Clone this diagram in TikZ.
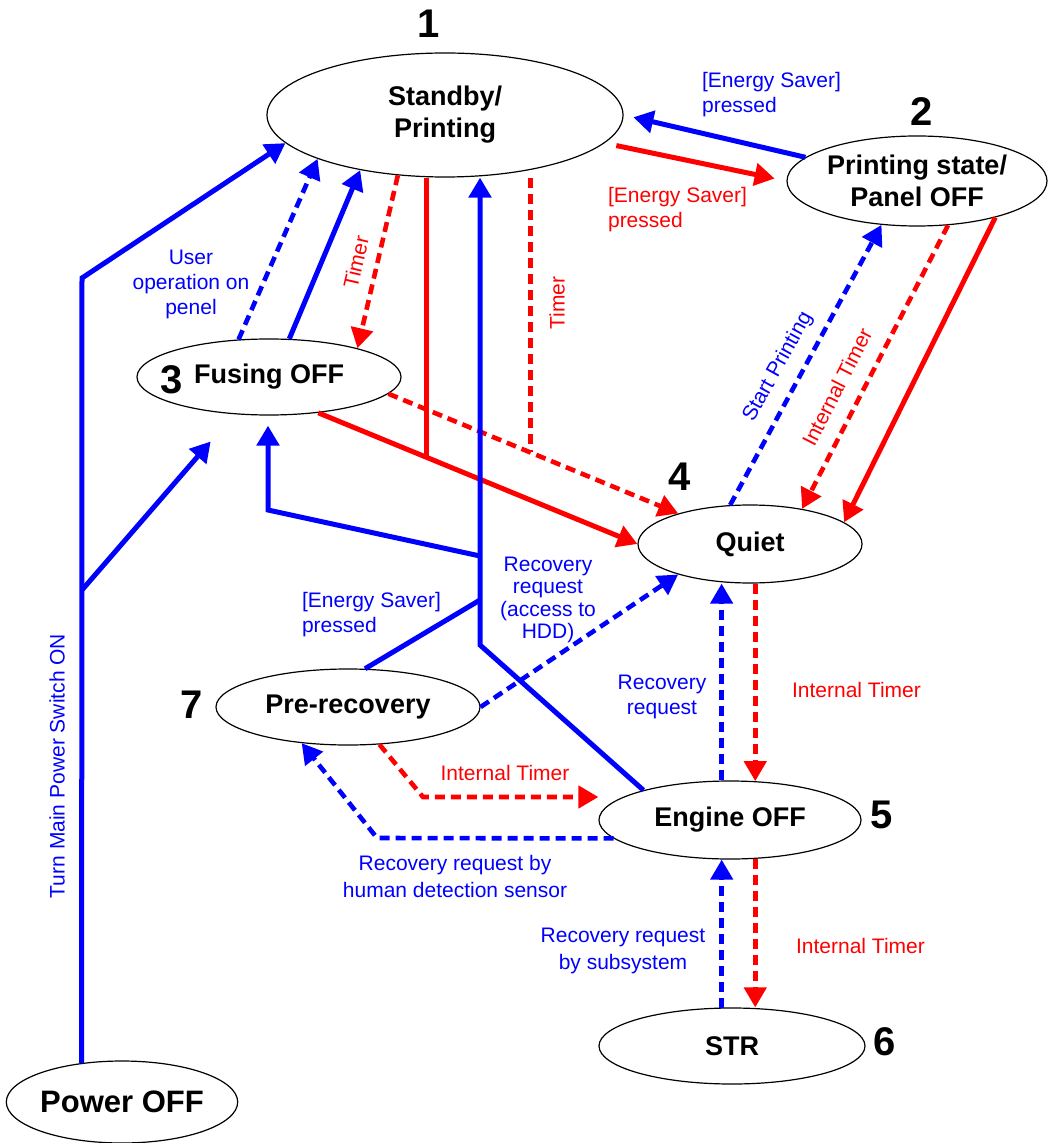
\documentclass[tikz,border=0pt]{standalone}
\usepackage{fontspec}
\setmainfont{Liberation Sans}
\usetikzlibrary{shapes.geometric, arrows.meta, calc}

\tikzset{
  state/.style={ellipse, draw=black, line width=0.6pt, inner sep=0pt, align=center,
    font=\fontsize{13.5}{16}\selectfont\bfseries},
  num/.style={font=\fontsize{20}{24}\selectfont\bfseries},
  blab/.style={text=blue, align=center, font=\fontsize{10.5}{12.5}\selectfont},
  rlab/.style={text=red, align=center, font=\fontsize{10.5}{12.5}\selectfont},
  bline/.style={draw=blue, line width=2.5pt},
  rline/.style={draw=red, line width=2.5pt},
  bdash/.style={draw=blue, line width=2.3pt, dash pattern=on 5pt off 3pt},
  rdash/.style={draw=red, line width=2.3pt, dash pattern=on 5pt off 3pt},
  arr/.style={-{Triangle[length=10pt,width=11pt]}}
}

\begin{document}
\begin{tikzpicture}[x=0.5pt, y=-0.5pt]
        \useasboundingbox (0,0) rectangle (1050,1143);

        % States
        \node[state, minimum width=178pt, minimum height=62pt] (sb) at (445,115) {Standby/\\Printing};
        \node[state, minimum width=130pt, minimum height=45pt] (pso) at (917,181) {Printing state/\\Panel OFF};
        \node[state, minimum width=132pt, minimum height=38pt] (fus) at (269,377) {Fusing OFF};
        \node[state, minimum width=112pt, minimum height=39pt] (qui) at (750,544) {Quiet};
        \node[state, minimum width=131pt, minimum height=39pt] (eng) at (730,820) {Engine OFF};
        \node[state, minimum width=133pt, minimum height=38pt] (str) at (732,1046) {STR};
        \node[state, minimum width=132pt, minimum height=38pt] (pre) at (348,707) {Pre-recovery};
        \node[state, minimum width=115pt, minimum height=41pt,
              font=\fontsize{15.5}{18}\selectfont\bfseries] (pwr) at (122,1102) {Power OFF};

        % State numbers
        \node[num] (n1) at (429,24) {1};
        \node[num] (n2) at (922,112) {2};
        \node[num] (n3) at (172,380) {3};
        \node[num] (n4) at (680,477) {4};
        \node[num] (n5) at (882,815) {5};
        \node[num] (n6) at (885,1042) {6};
        \node[num] (n7) at (192,705) {7};

        % Junction points
        \coordinate (pc) at (82,278);    % Power line corner
        \coordinate (pb) at (82,590);    % Power line branch
        \coordinate (jb) at (480,645);   % Blue trunk corner
        \coordinate (jf) at (480,556);   % Branch to Fusing OFF
        \coordinate (jp) at (480,600);   % Branch from Pre-recovery
        \coordinate (kf) at (268,510);   % Corner below Fusing OFF
        \coordinate (cr) at (423,797);   % Internal Timer corner
        \coordinate (cb) at (377,838);   % Human sensor corner
        \coordinate (jr) at ($(fus.-36)!0.34!(qui.west)$);
        \coordinate (jt) at ($(fus.-8)!0.49!(qui.157)$);

        % Power OFF
        \draw[bline, arr] (pwr.136) -- (pc) -- (sb.190);
        \draw[bline, arr, shorten >=18pt] (pb) -- (fus.227);

        % Fusing OFF <-> Standby
        \draw[bdash, arr] (fus.129) -- (sb.199);
        \draw[bline, arr] (fus.62) -- (sb.213);
        \draw[rdash, arr] (sb.232) -- (fus.18);

        % To Quiet
        \draw[rline, arr] (fus.-36) -- (qui.west);
        \draw[rline] (jr |- sb.south) -- (jr);
        \draw[rdash, arr] (fus.-8) -- (qui.157);
        \draw[rdash] (jt |- sb.south) -- (jt);

        % Blue trunk back to Standby
        \draw[bline, arr] (eng.161) -- (jb) -- (jb |- sb.south);
        \draw[bline, arr, shorten >=5pt] (jf) -- (kf) -- (kf |- fus.south);
        \draw[bline] (pre.66) -- (jp);

        % Standby <-> Printing state
        \draw[rline, arr, shorten <=6pt, shorten >=6pt] (sb.-10) -- (pso.west);
        \draw[bline, arr, shorten >=5pt] (pso.168) -- (sb.east);

        % Printing state <-> Quiet
        \draw[bdash, arr] (qui.117) -- (pso.231);
        \draw[rdash, arr] (pso.305) -- (qui.34);
        \draw[rline, arr] (pso.335) -- (qui.13);

        % Pre-recovery
        \draw[bdash, arr] (pre.east) -- (qui.203);
        \draw[rdash, arr] (pre.-50) -- (cr) -- (cr -| eng.west);
        \draw[bdash, arr] (eng.189) -- (cb) -- (pre.218);

        % Quiet <-> Engine OFF
        \draw[bdash, arr] (eng.102) -- (eng.102 |- qui.south);
        \draw[rdash, arr] (eng.57 |- qui.south) -- (eng.57);

        % Engine OFF <-> STR
        \draw[rdash, arr] (eng.-57) -- (eng.-57 |- str.north);
        \draw[bdash, arr] (str.105) -- (str.105 |- eng.south);

        % Labels
        \node[blab, rotate=90] (lpwr) at (57,766) {Turn Main Power Switch ON};
        \node[blab] (luser) at (191,284) {User\\operation on\\penel};
        \node[rlab, rotate=77] (ltm1) at (356,262) {Timer};
        \node[rlab, rotate=90] (ltm2) at (557,303) {Timer};
        \node[blab, anchor=west, align=left] (les1) at (695,95) {[Energy Saver]\\pressed};
        \node[rlab, anchor=west, align=left] (les2) at (601,210) {[Energy Saver]\\pressed};
        \node[blab, rotate=61] (lstart) at (778,367) {Start Printing};
        \node[rlab, rotate=63] (lit1) at (837,387) {Internal Timer};
        \node[blab, anchor=west, align=left] (les3) at (295,615) {[Energy Saver]\\pressed};
        \node[blab, font=\fontsize{10.5}{11.3}\selectfont] (lhdd) at (548,600) {Recovery\\request\\(access to\\HDD)};
        \node[blab] (lrq) at (662,697) {Recovery\\request};
        \node[rlab, anchor=west] (lit2) at (785,690) {Internal Timer};
        \node[rlab] (lit3) at (505,773) {Internal Timer};
        \node[blab, font=\fontsize{10.5}{13.5}\selectfont] (lhum) at (455,876) {Recovery request by\\human detection sensor};
        \node[blab, font=\fontsize{10.5}{13.5}\selectfont] (lsub) at (623,951) {Recovery request\\by subsystem};
        \node[rlab, anchor=west] (lit4) at (789,946) {Internal Timer};
\end{tikzpicture}
\end{document}
